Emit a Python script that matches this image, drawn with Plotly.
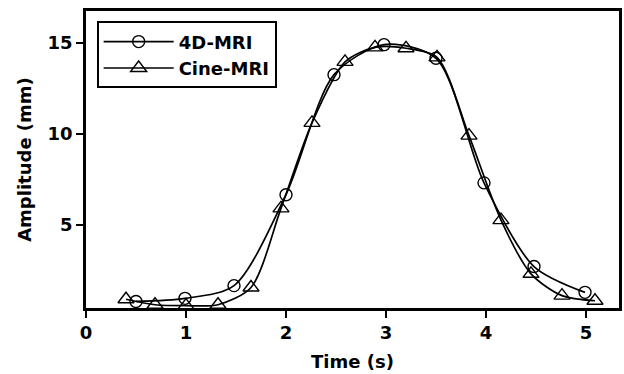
import plotly.graph_objects as go

# Respiratory motion amplitude over one breathing cycle
t_4d = [0.50, 0.99, 1.48, 2.00, 2.48, 2.98, 3.50, 3.98, 4.48, 4.99]
amp_4d = [0.78, 0.95, 1.65, 6.65, 13.25, 14.9, 14.15, 7.3, 2.7, 1.28]

t_cine = [0.40, 0.69, 1.00, 1.32, 1.65, 1.95, 2.26, 2.59, 2.89, 3.20,
          3.51, 3.83, 4.15, 4.45, 4.76, 5.09]
amp_cine = [0.9, 0.6, 0.55, 0.6, 1.55, 5.9, 10.6, 13.95, 14.75, 14.7,
            14.2, 9.9, 5.25, 2.3, 1.1, 0.82]

x_ticks = [0, 1, 2, 3, 4, 5]
y_ticks = [5, 10, 15]

FONT = "DejaVu Sans, sans-serif"

fig = go.Figure()
fig.add_trace(go.Scatter(
    x=t_4d, y=amp_4d, name="4D-MRI", mode="lines+markers",
    line=dict(color="black", width=1.7, shape="spline", smoothing=0.8),
    marker=dict(symbol="circle-open", size=12, color="black",
                line=dict(width=1.4, color="black")),
))
fig.add_trace(go.Scatter(
    x=t_cine, y=amp_cine, name="Cine-MRI", mode="lines+markers",
    line=dict(color="black", width=1.7, shape="spline", smoothing=0.8),
    marker=dict(symbol="triangle-up-open", size=14, color="black",
                line=dict(width=1.4, color="black")),
))

axis_common = dict(
    showline=True, linecolor="black", linewidth=2.5, mirror=True,
    ticks="outside", ticklen=7, tickwidth=2, tickcolor="black",
    showgrid=False, zeroline=False,
    tickfont=dict(family=FONT, size=18, color="black", weight="bold"),
)

fig.update_xaxes(
    range=[0, 5.33], tickvals=x_ticks,
    title=dict(text="Time (s)", standoff=14,
               font=dict(family=FONT, size=18, color="black", weight="bold")),
    **axis_common,
)
fig.update_yaxes(
    range=[0.42, 16.75], tickvals=y_ticks,
    title=dict(text="Amplitude (mm)", standoff=12,
               font=dict(family=FONT, size=18, color="black", weight="bold")),
    **axis_common,
)

fig.update_layout(
    width=624, height=374,
    margin=dict(l=86, r=2, t=11, b=66),
    paper_bgcolor="white", plot_bgcolor="white",
    showlegend=True,
    legend=dict(
        x=0.02, y=0.965, xanchor="left", yanchor="top",
        bordercolor="black", borderwidth=2, bgcolor="white",
        font=dict(family=FONT, size=18, color="black", weight="bold"),
        itemwidth=70, tracegroupgap=0,
    ),
)

fig.write_html("out.html")
